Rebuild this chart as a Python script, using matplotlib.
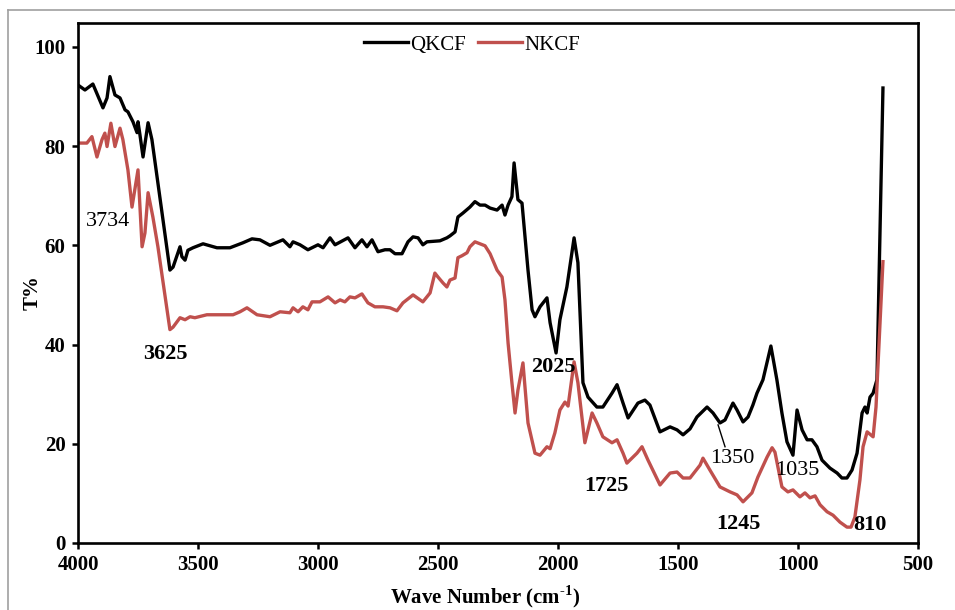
import matplotlib
matplotlib.use('Agg')
from matplotlib import pyplot as plt
from matplotlib.lines import Line2D

plt.rcParams['font.family'] = ['Liberation Serif', 'DejaVu Serif']
plt.rcParams['mathtext.fontset'] = 'custom'
plt.rcParams['mathtext.rm'] = 'Liberation Serif:bold'
plt.rcParams['mathtext.bf'] = 'Liberation Serif:bold'

# QKCF spectrum (wave number, transmittance %)
qkcf_wn = [4000, 3971, 3938, 3896, 3879, 3867, 3846, 3825, 3804, 3792, 3771, 3754,
           3750, 3742, 3729, 3708, 3692, 3617, 3604, 3575, 3567, 3554, 3542, 3521,
           3479, 3421, 3367, 3313, 3275, 3242, 3200, 3146, 3117, 3104, 3075, 3042,
           3000, 2979, 2950, 2929, 2875, 2846, 2817, 2796, 2775, 2750, 2721, 2700,
           2679, 2650, 2625, 2604, 2583, 2563, 2546, 2492, 2463, 2450, 2429, 2417,
           2396, 2367, 2346, 2325, 2304, 2283, 2254, 2233, 2221, 2208, 2192, 2183,
           2167, 2150, 2125, 2108, 2096, 2075, 2046, 2033, 2008, 1992, 1963, 1933,
           1917, 1896, 1875, 1838, 1813, 1775, 1754, 1729, 1708, 1667, 1638, 1617,
           1575, 1533, 1504, 1479, 1450, 1421, 1379, 1354, 1325, 1304, 1271, 1254,
           1229, 1208, 1188, 1171, 1146, 1113, 1088, 1067, 1046, 1025, 1021, 1004,
           983, 962, 942, 921, 900, 867, 837, 817, 796, 775, 754, 733, 721, 712,
           700, 687, 671, 646]
qkcf_t = [92.3, 91.3, 92.5, 87.7, 89.7, 94.0, 90.3, 89.7, 87.3, 86.9, 84.9, 82.7,
          84.9, 82.3, 77.8, 84.7, 81.3, 55.0, 55.6, 59.7, 57.7, 57.0, 59.0, 59.5,
          60.3, 59.5, 59.5, 60.5, 61.3, 61.1, 60.0, 61.1, 59.7, 60.7, 60.1, 59.1,
          60.1, 59.5, 61.5, 60.1, 61.5, 59.5, 61.1, 59.7, 61.1, 58.7, 59.1, 59.1,
          58.3, 58.3, 60.7, 61.7, 61.5, 60.1, 60.7, 60.9, 61.5, 61.9, 62.7, 65.7,
          66.5, 67.7, 68.8, 68.1, 68.1, 67.5, 67.1, 68.1, 66.1, 68.1, 69.8, 76.6,
          69.2, 68.5, 55.0, 47.0, 45.6, 47.6, 49.4, 44.4, 38.3, 45.0, 51.6, 61.5,
          56.5, 32.3, 29.4, 27.4, 27.4, 30.2, 31.9, 28.2, 25.2, 28.2, 28.8, 27.8,
          22.4, 23.4, 22.8, 21.8, 23.0, 25.4, 27.4, 26.2, 24.2, 24.8, 28.2, 26.8,
          24.4, 25.4, 27.8, 30.2, 32.9, 39.7, 32.9, 26.2, 20.4, 18.1, 17.7, 26.8,
          22.8, 20.8, 20.8, 19.4, 16.7, 15.1, 14.1, 13.1, 13.1, 14.7, 18.1, 26.2,
          27.4, 26.2, 29.4, 30.2, 32.9, 91.7]

# NKCF spectrum
nkcf_wn = [4000, 3963, 3942, 3921, 3900, 3888, 3879, 3863, 3846, 3825, 3813, 3792,
           3775, 3750, 3733, 3721, 3708, 3688, 3667, 3617, 3604, 3575, 3554, 3533,
           3513, 3463, 3408, 3354, 3325, 3296, 3254, 3200, 3158, 3117, 3104, 3083,
           3063, 3042, 3025, 2992, 2958, 2929, 2908, 2888, 2867, 2846, 2817, 2792,
           2763, 2729, 2700, 2671, 2646, 2604, 2575, 2563, 2533, 2513, 2500, 2479,
           2463, 2450, 2429, 2417, 2400, 2379, 2367, 2346, 2325, 2304, 2283, 2254,
           2233, 2221, 2208, 2192, 2179, 2167, 2146, 2125, 2096, 2075, 2046, 2033,
           2013, 1992, 1971, 1958, 1933, 1917, 1888, 1858, 1838, 1813, 1775, 1754,
           1729, 1713, 1671, 1650, 1625, 1575, 1533, 1504, 1479, 1450, 1408, 1396,
           1367, 1325, 1283, 1254, 1229, 1192, 1167, 1129, 1108, 1096, 1067, 1042,
           1021, 992, 971, 950, 929, 908, 879, 854, 825, 796, 779, 763, 742, 729,
           712, 687, 675, 646]
nkcf_t = [80.6, 80.6, 81.9, 77.8, 81.3, 82.6, 79.9, 84.6, 79.9, 83.6, 81.3, 75.2,
          67.7, 75.2, 59.7, 62.5, 70.6, 65.7, 59.7, 43.0, 43.5, 45.4, 45.0, 45.6,
          45.4, 46.0, 46.0, 46.0, 46.6, 47.4, 46.0, 45.6, 46.6, 46.4, 47.4, 46.6,
          47.6, 47.0, 48.6, 48.6, 49.6, 48.4, 49.0, 48.6, 49.6, 49.4, 50.2, 48.4,
          47.6, 47.6, 47.4, 46.8, 48.4, 50.0, 49.0, 48.6, 50.4, 54.4, 53.6, 52.4,
          51.6, 53.0, 53.4, 57.5, 57.9, 58.5, 59.7, 60.7, 60.3, 59.9, 58.3, 55.0,
          53.6, 49.0, 40.3, 32.3, 26.2, 30.8, 36.3, 24.2, 18.1, 17.7, 19.4, 19.0,
          22.2, 26.8, 28.4, 27.6, 36.5, 32.3, 20.2, 26.2, 24.2, 21.4, 20.2, 20.8,
          18.1, 16.1, 18.1, 19.4, 16.7, 11.7, 14.1, 14.3, 13.1, 13.1, 15.7, 17.1,
          14.7, 11.3, 10.3, 9.7, 8.3, 10.1, 13.3, 17.3, 19.2, 18.3, 11.3, 10.3,
          10.7, 9.3, 10.1, 9.1, 9.5, 7.7, 6.3, 5.6, 4.2, 3.2, 3.2, 5.2, 12.7, 19.4,
          22.4, 21.4, 27.4, 56.7]

# peak labels: text, wave number, T%, bold
peak_text = ['3734', '3625', '2025', '1725', '1350', '1245', '1035', '810']
peak_wn = [3875, 3637, 2021, 1800, 1275, 1250, 1004, 700]
peak_t = [64.7, 38.1, 35.5, 11.5, 17.1, 3.9, 14.7, 3.7]
peak_bold = [False, True, True, True, False, True, False, True]

fig = plt.figure(figsize=(9.55, 6.10), dpi=100)
ax = fig.add_axes([78 / 955, 67 / 610, 840 / 955, 520 / 610])

ax.plot(qkcf_wn, qkcf_t, color='black', lw=2.4, label='QKCF', solid_joinstyle='round')
ax.plot(nkcf_wn, nkcf_t, color='#C0504D', lw=2.4, label='NKCF', solid_joinstyle='round')

ax.set_xlim(4000, 500)
ax.set_ylim(0, 104.8)
ax.set_xticks([4000, 3500, 3000, 2500, 2000, 1500, 1000, 500])
ax.set_yticks([0, 20, 40, 60, 80, 100])
ax.tick_params(direction='out', length=4, width=1.8, labelsize=15, pad=5)
for lbl in ax.get_xticklabels() + ax.get_yticklabels():
    lbl.set_fontweight('bold')
for sp in ax.spines.values():
    sp.set_linewidth(1.9)

for t, x, y, b in zip(peak_text, peak_wn, peak_t, peak_bold):
    ax.text(x, y, t, ha='center', va='center', fontsize=16,
            fontweight='bold' if b else 'normal')
# leader for the 1350 band
ax.plot([1333, 1304], [23.8, 19.4], color='black', lw=1.0)

ax.legend(loc='center', bbox_to_anchor=(0.469, 0.958), ncol=2, frameon=False,
          fontsize=15, handlelength=2.1, handletextpad=0.1, columnspacing=0.6,
          borderpad=0)

fig.text(485 / 955, 13 / 610, 'Wave Number (cm$^{\\text{-1}}$)', ha='center',
         va='center', fontsize=15, fontweight='bold')
fig.text(33 / 955, 317 / 610, 'T%', ha='center', va='center', fontsize=15,
         fontweight='bold', rotation=90)

# grey frame around the figure
fig.add_artist(Line2D([8 / 955, 8 / 955], [0, 600 / 610], transform=fig.transFigure,
                      color='#A0A0A0', lw=1.2))
fig.add_artist(Line2D([8 / 955, 1], [600 / 610, 600 / 610], transform=fig.transFigure,
                      color='#A0A0A0', lw=1.2))

fig.savefig('out.png', dpi=100)
